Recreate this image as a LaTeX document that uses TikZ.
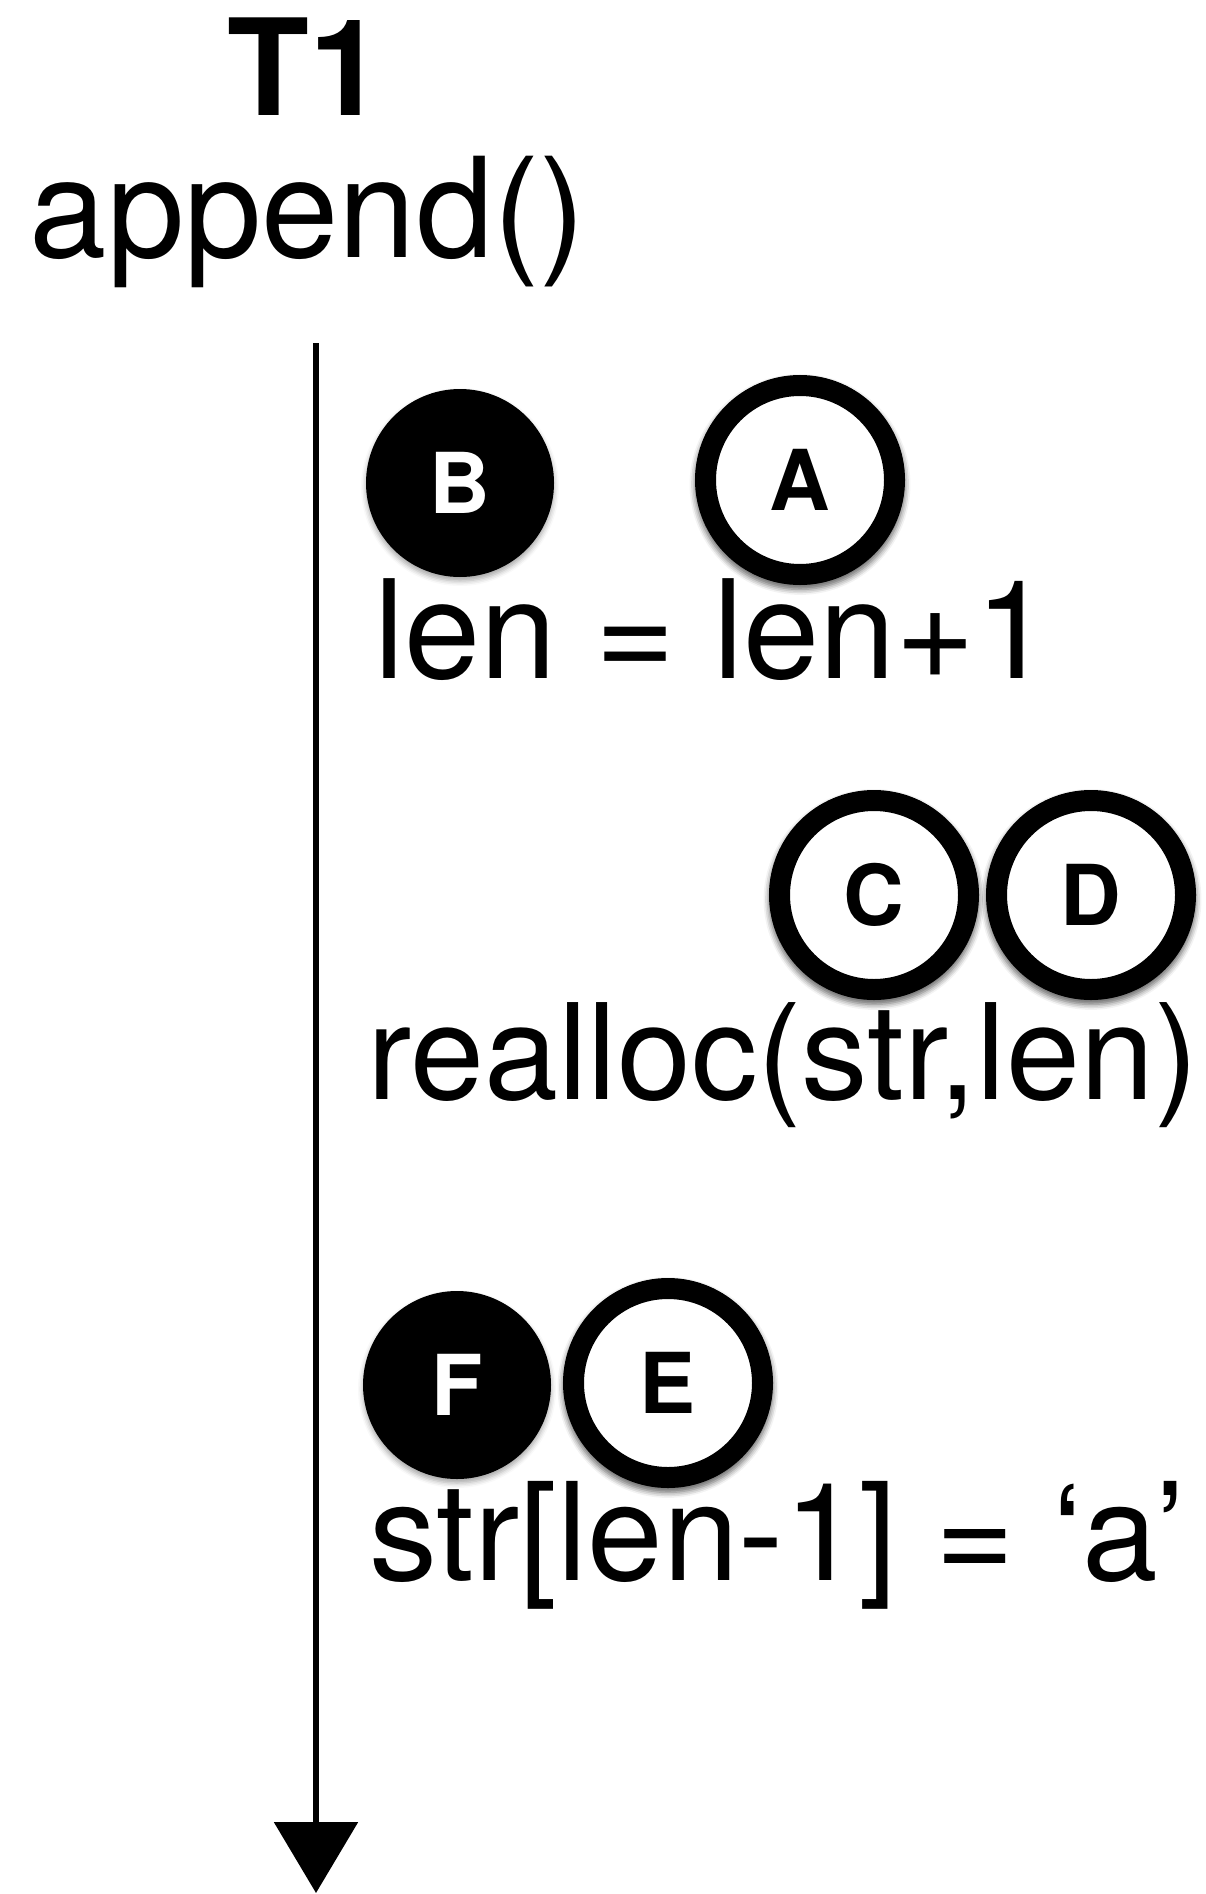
\documentclass[tikz,border=0pt]{standalone}
\usepackage{fontspec}
\setmainfont{TeX Gyre Heros}
\usetikzlibrary{arrows.meta,shadows.blur}

\tikzset{
  lock/.style={circle, inner sep=0pt, font=\fontsize{84}{84}\selectfont\bfseries,
    blur shadow={shadow xshift=0pt, shadow yshift=-4pt, shadow blur radius=5pt, shadow opacity=35}},
  held/.style={lock, fill=black, text=white, minimum size=188pt},
  waiting/.style={lock, draw=black, fill=white, line width=21pt, minimum size=189pt,
    blur shadow={shadow scale=1.11, shadow xshift=0pt, shadow yshift=-4pt, shadow blur radius=5pt, shadow opacity=35}},
  stmt/.style={anchor=base west, inner sep=0pt, font=\fontsize{136}{136}\selectfont},
}

\begin{document}
\begin{tikzpicture}[x=1pt, y=-1pt]
    \useasboundingbox (0,0) rectangle (1205,1894);

    % Thread and function
    \node[anchor=base, inner sep=0pt, font=\fontsize{134}{134}\selectfont\bfseries] (thread) at (306,116) {T1};
    \node[anchor=base, inner sep=0pt, font=\fontsize{139}{139}\selectfont] (func) at (308,258) {append()};

    % Time line
    \coordinate (start) at (316,343);
    \coordinate (end) at (316,1893);
    \draw[line width=6pt, -{Triangle[width=83pt, length=71pt]}] (start) -- (end);

    % Statements
    \node[stmt, font=\fontsize{137}{137}\selectfont] (incr) at (374,678) {len = len+1};
    \node[stmt, font=\fontsize{133}{133}\selectfont] (grow) at (367,1099) {realloc(str,len)};
    \node[stmt] (store) at (369,1580) {str[len-1] = ‘a’};

    % Locks held and waited for
    \node[held] (B) at (460,483) {B};
    \node[waiting] (A) at (800,480) {A};
    \node[waiting] (C) at (874,895) {C};
    \node[waiting] (D) at (1091,895) {D};
    \node[held] (F) at (457,1385) {F};
    \node[waiting] (E) at (668,1383) {E};
\end{tikzpicture}
\end{document}
